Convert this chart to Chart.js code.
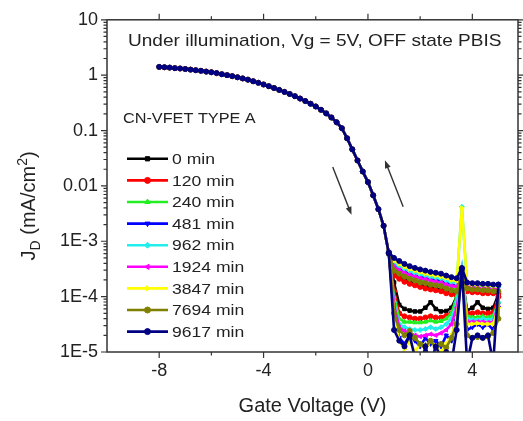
<!DOCTYPE html>
<html><head><meta charset="utf-8">
<script src="https://cdn.jsdelivr.net/npm/chart.js@4.4.1/dist/chart.umd.min.js"></script>
<style>html,body{margin:0;padding:0;background:#fff;}#wrap{width:523px;height:421px;}</style>
</head><body><div id="wrap"><canvas id="c" width="523" height="421"></canvas></div>
<script>
// ---------- data ----------
const seriesLabels = ['0 min','120 min','240 min','481 min','962 min','1924 min','3847 min','7694 min','9617 min'];
const seriesColors = ['#000000','#ff0000','#22ee22','#0000ff','#22eeee','#ff00ff','#ffff00','#808000','#000080'];
const seriesMarkers = ['rect','circle','triangle','triangle','rectRot','triangle','triangle','circle','circle'];
const seriesMarkerRot = [0,0,0,180,0,270,90,0,0];

const legendTitle = 'CN-VFET TYPE A';
const noteText = 'Under illumination, Vg = 5V, OFF state PBIS';
const xTitle = 'Gate Voltage (V)';

const xTickValues = [-8,-6,-4,-2,0,2,4];
const xTickLabels = ['-8','','-4','','0','','4'];
const yTickValues = [1e-5,1e-4,1e-3,0.01,0.1,1,10];
const yTickLabels = ['1E-5','1E-4','1E-3','0.01','0.1','1','10'];

// common ON-state part (all stress times overlap)
const onV = [-8.0,-7.8,-7.6,-7.4,-7.2,-7.0,-6.8,-6.6,-6.4,-6.2,-6.0,-5.8,-5.6,-5.4,-5.2,-5.0,-4.8,-4.6,-4.4,-4.2,-4.0,-3.8,-3.6,-3.4,-3.2,-3.0,-2.8,-2.6,-2.4,-2.2,-2.0,-1.8,-1.6,-1.4,-1.2,-1.0,-0.8,-0.6,-0.4,-0.2,0.0,0.2,0.4,0.6];
const onJ = [1.41,1.39,1.37,1.34,1.32,1.29,1.26,1.23,1.20,1.16,1.13,1.09,1.04,1.00,0.96,0.916,0.873,0.830,0.776,0.728,0.679,0.632,0.586,0.542,0.499,0.457,0.417,0.378,0.341,0.305,0.272,0.237,0.204,0.172,0.141,0.110,0.0724,0.0457,0.0288,0.0182,0.0117,0.00676,0.0038,0.0019];

// OFF-state region
const offV = [0.8,1.0,1.2,1.4,1.6,1.8,2.0,2.2,2.4,2.6,2.8,3.0,3.2,3.4,3.6,3.8,4.0,4.2,4.4,4.6,4.8,5.0];

// forward sweep (lower branch)
const fwd_0    = [6.0e-4,1.8e-4,7.1e-5,6.0e-5,5.6e-5,5.4e-5,5.4e-5,6.3e-5,7.9e-5,6.0e-5,5.4e-5,5.5e-5,6.3e-5,1.0e-4,2.5e-4,5.6e-5,6.3e-5,7.9e-5,6.3e-5,6.0e-5,6.3e-5,1.1e-4];
const fwd_120  = [6.0e-4,1.26e-4,5.0e-5,4.4e-5,4.2e-5,4.0e-5,4.0e-5,4.2e-5,4.4e-5,4.2e-5,4.2e-5,4.5e-5,5.0e-5,7.9e-5,2.5e-4,5.0e-5,5.0e-5,5.2e-5,5.0e-5,5.0e-5,5.2e-5,1.0e-4];
const fwd_240  = [6.0e-4,1.0e-4,4.0e-5,3.5e-5,3.5e-5,3.4e-5,3.4e-5,3.5e-5,3.7e-5,3.5e-5,3.6e-5,4.0e-5,5.0e-5,1.0e-4,2.8e-4,4.5e-5,4.2e-5,4.3e-5,4.4e-5,4.2e-5,4.5e-5,7.9e-5];
const fwd_481  = [6.0e-4,5.0e-5,1.8e-5,1.4e-5,2.0e-5,1.6e-5,1.26e-5,1.8e-5,1.4e-5,1.6e-5,1.26e-5,2.0e-5,1.6e-5,5.0e-5,2.8e-4,2.5e-5,2.8e-5,3.2e-5,2.8e-5,3.2e-5,2.5e-5,6.3e-5];
const fwd_962  = [6.0e-4,7.9e-5,3.2e-5,2.8e-5,2.6e-5,2.5e-5,2.5e-5,2.6e-5,2.8e-5,2.6e-5,2.8e-5,3.2e-5,4.0e-5,7.9e-5,3.2e-4,4.0e-5,3.8e-5,3.8e-5,4.0e-5,3.8e-5,4.0e-5,7.9e-5];
const fwd_1924 = [6.0e-4,7.1e-5,2.8e-5,2.4e-5,2.2e-5,2.0e-5,1.9e-5,2.0e-5,2.1e-5,2.0e-5,2.2e-5,2.5e-5,3.2e-5,6.3e-5,2.5e-4,3.5e-5,3.5e-5,3.5e-5,3.5e-5,3.4e-5,3.5e-5,7.1e-5];
const fwd_3847 = [6.0e-4,5.0e-5,1.6e-5,1.12e-5,1.6e-5,1.0e-5,1.4e-5,1.12e-5,1.6e-5,1.26e-5,1.0e-5,1.4e-5,2.0e-5,4.0e-5,3.2e-4,3.2e-5,3.2e-5,3.3e-5,3.2e-5,3.2e-5,3.2e-5,6.3e-5];
const fwd_7694 = [6.0e-4,5.0e-5,2.5e-5,2.0e-5,2.4e-5,1.8e-5,1.4e-5,1.26e-5,1.6e-5,1.2e-5,1.4e-5,1.2e-5,1.8e-5,3.2e-5,3.0e-4,2.0e-5,1.8e-5,1.86e-5,1.8e-5,1.9e-5,2.2e-5,4.0e-5];
const fwd_9617 = [6.0e-4,2.5e-5,1.6e-5,1.26e-5,2.0e-5,7.9e-6,5.0e-6,1.26e-5,6.3e-6,1.26e-5,7.9e-6,1.0e-5,6.3e-6,2.5e-5,3.2e-4,6.3e-6,1.8e-5,2.0e-5,1.8e-5,2.0e-5,6.3e-6,1.65e-4];

// reverse sweep (upper branch), listed at offV
const rev_0    = [6.3e-4,2.6e-4,2.3e-4,2.0e-4,1.85e-4,1.7e-4,1.6e-4,1.55e-4,1.45e-4,1.4e-4,1.35e-4,1.25e-4,1.15e-4,1.1e-4,2.4e-4,1.3e-4,1.25e-4,1.25e-4,1.2e-4,1.2e-4,1.2e-4,1.2e-4];
const rev_120  = [6.3e-4,2.4e-4,2.1e-4,1.85e-4,1.7e-4,1.6e-4,1.5e-4,1.4e-4,1.35e-4,1.3e-4,1.25e-4,1.15e-4,1.1e-4,1.05e-4,2.4e-4,1.25e-4,1.2e-4,1.2e-4,1.15e-4,1.15e-4,1.15e-4,1.15e-4];
const rev_240  = [6.3e-4,3.15e-4,2.75e-4,2.45e-4,2.25e-4,2.1e-4,1.95e-4,1.85e-4,1.75e-4,1.7e-4,1.65e-4,1.5e-4,1.4e-4,1.35e-4,2.5e-4,1.4e-4,1.4e-4,1.4e-4,1.35e-4,1.35e-4,1.3e-4,1.3e-4];
const rev_481  = [6.3e-4,3.8e-4,3.35e-4,2.95e-4,2.7e-4,2.5e-4,2.35e-4,2.25e-4,2.15e-4,2.05e-4,1.95e-4,1.8e-4,1.7e-4,1.65e-4,2.8e-4,1.55e-4,1.5e-4,1.5e-4,1.5e-4,1.5e-4,1.45e-4,1.45e-4];
const rev_962  = [6.3e-4,4.05e-4,3.55e-4,3.15e-4,2.9e-4,2.65e-4,2.5e-4,2.4e-4,2.25e-4,2.2e-4,2.1e-4,1.95e-4,1.8e-4,1.75e-4,4.2e-3,1.6e-4,1.6e-4,1.6e-4,1.55e-4,1.55e-4,1.5e-4,1.5e-4];
const rev_1924 = [6.3e-4,3.45e-4,3.0e-4,2.7e-4,2.45e-4,2.3e-4,2.15e-4,2.05e-4,1.95e-4,1.85e-4,1.8e-4,1.65e-4,1.55e-4,1.5e-4,2.6e-4,1.5e-4,1.45e-4,1.45e-4,1.4e-4,1.4e-4,1.35e-4,1.35e-4];
const rev_3847 = [6.3e-4,4.45e-4,3.9e-4,3.45e-4,3.15e-4,2.95e-4,2.75e-4,2.6e-4,2.5e-4,2.4e-4,2.3e-4,2.15e-4,2.0e-4,1.9e-4,4.0e-3,1.7e-4,1.65e-4,1.65e-4,1.6e-4,1.6e-4,1.55e-4,1.55e-4];
const rev_7694 = [6.3e-4,2.95e-4,2.6e-4,2.3e-4,2.1e-4,1.95e-4,1.8e-4,1.75e-4,1.65e-4,1.6e-4,1.55e-4,1.4e-4,1.3e-4,1.25e-4,2.6e-4,1.4e-4,1.35e-4,1.35e-4,1.3e-4,1.3e-4,1.25e-4,1.25e-4];
const rev_9617 = [6.3e-4,5.0e-4,4.4e-4,3.9e-4,3.55e-4,3.3e-4,3.1e-4,2.95e-4,2.8e-4,2.7e-4,2.6e-4,2.4e-4,2.25e-4,2.15e-4,3.3e-4,1.8e-4,1.75e-4,1.75e-4,1.7e-4,1.7e-4,1.65e-4,1.65e-4];

const fwdSets = [fwd_0,fwd_120,fwd_240,fwd_481,fwd_962,fwd_1924,fwd_3847,fwd_7694,fwd_9617];
const revSets = [rev_0,rev_120,rev_240,rev_481,rev_962,rev_1924,rev_3847,rev_7694,rev_9617];

// arrow annotations (in data coordinates): [x0, y0, x1, y1]
const arrowDown = [-1.35, 0.022, -0.63, 0.003];
const arrowUp   = [1.35, 0.0042, 0.65, 0.029];

// ---------- chart ----------
const FONT = "'Liberation Sans', Arial, Helvetica, sans-serif";
const TXT = '#222222';

function buildSeries(i){
  const pts = [];
  onV.forEach((v,k)=>pts.push({x:v, y:onJ[k]}));
  offV.forEach((v,k)=>pts.push({x:v, y:fwdSets[i][k]}));
  for (let k = offV.length-1; k >= 0; k--) pts.push({x:offV[k], y:revSets[i][k]});
  return pts;
}

function drawStretched(ctx, txt, x, y, size, sx, align){
  ctx.save();
  ctx.font = size + 'px ' + FONT;
  ctx.textBaseline = 'middle';
  ctx.textAlign = 'left';
  const w = ctx.measureText(txt).width * sx;
  let x0 = x;
  if (align === 'center') x0 = x - w/2;
  ctx.translate(x0, y);
  ctx.scale(sx, 1);
  ctx.fillText(txt, 0, 0);
  ctx.restore();
  return w;
}

const decor = {
  id: 'decor',
  afterDatasetsDraw(chart){
    const {ctx, chartArea:a, scales:{x, y}} = chart;
    ctx.save();
    ctx.strokeStyle = '#333';
    ctx.lineWidth = 1.5;
    ctx.strokeRect(a.left, a.top, a.right-a.left, a.bottom-a.top);
    ctx.lineWidth = 1.2;
    ctx.beginPath();
    xTickValues.forEach((v,i)=>{
      const px = x.getPixelForValue(v);
      const L = xTickLabels[i] ? 6 : 3.5;
      ctx.moveTo(px, a.bottom); ctx.lineTo(px, a.bottom + L);
      ctx.moveTo(px, a.top); ctx.lineTo(px, a.top - L);
    });
    yTickValues.forEach((d)=>{
      const py = y.getPixelForValue(d);
      ctx.moveTo(a.left, py); ctx.lineTo(a.left - 6, py);
      ctx.moveTo(a.right, py); ctx.lineTo(a.right + 6, py);
      if (d < 10) {
        for (let m = 2; m <= 9; m++) {
          const pm = y.getPixelForValue(d*m);
          ctx.moveTo(a.left, pm); ctx.lineTo(a.left - 3.5, pm);
          ctx.moveTo(a.right, pm); ctx.lineTo(a.right + 3.5, pm);
        }
      }
    });
    ctx.stroke();

    // arrows
    const drawArrow = (arr) => {
      const x0 = x.getPixelForValue(arr[0]), y0 = y.getPixelForValue(arr[1]);
      const x1 = x.getPixelForValue(arr[2]), y1 = y.getPixelForValue(arr[3]);
      const ang = Math.atan2(y1-y0, x1-x0);
      ctx.strokeStyle = '#333'; ctx.fillStyle = '#333'; ctx.lineWidth = 1.4;
      ctx.beginPath(); ctx.moveTo(x0,y0); ctx.lineTo(x1 - 4*Math.cos(ang), y1 - 4*Math.sin(ang)); ctx.stroke();
      ctx.beginPath();
      ctx.moveTo(x1, y1);
      ctx.lineTo(x1 - 8*Math.cos(ang) + 3*Math.sin(ang), y1 - 8*Math.sin(ang) - 3*Math.cos(ang));
      ctx.lineTo(x1 - 8*Math.cos(ang) - 3*Math.sin(ang), y1 - 8*Math.sin(ang) + 3*Math.cos(ang));
      ctx.closePath(); ctx.fill();
    };
    drawArrow(arrowDown);
    drawArrow(arrowUp);

    // note text
    ctx.fillStyle = TXT;
    drawStretched(ctx, noteText, a.left + 21, a.top + 22, 17, 1.12, 'left');

    // legend
    drawStretched(ctx, legendTitle, a.left + 16, a.top + 99, 14, 1.16, 'left');
    const lx0 = a.left + 20, lx1 = a.left + 61, rowY0 = a.top + 139, rowStep = 21.6;
    chart.data.datasets.forEach((ds, i) => {
      const ry = rowY0 + i*rowStep;
      ctx.strokeStyle = ds.borderColor; ctx.lineWidth = 2.6;
      ctx.beginPath(); ctx.moveTo(lx0, ry); ctx.lineTo(lx1, ry); ctx.stroke();
      ctx.fillStyle = ds.borderColor; ctx.strokeStyle = ds.borderColor; ctx.lineWidth = 1;
      if (Chart.helpers && Chart.helpers.drawPoint) {
        Chart.helpers.drawPoint(ctx, {pointStyle: ds.pointStyle, rotation: ds.pointRotation, radius: 3, borderWidth: 1}, (lx0+lx1)/2, ry);
      } else {
        ctx.beginPath(); ctx.arc((lx0+lx1)/2, ry, 3, 0, Math.PI*2); ctx.fill();
      }
      ctx.fillStyle = TXT;
      drawStretched(ctx, ds.label, lx1 + 4, ry + 1, 15, 1.17, 'left');
    });

    // y axis title with subscript / superscript
    ctx.save();
    ctx.translate(28, (a.top + a.bottom)/2 + 20);
    ctx.rotate(-Math.PI/2);
    ctx.fillStyle = TXT;
    ctx.textBaseline = 'alphabetic';
    ctx.textAlign = 'left';
    const parts = [['J',20,0],['D',14,5],[' (mA/cm',20,0],['2',14,-8],[')',20,0]];
    let tw = 0;
    parts.forEach(p => { ctx.font = p[1] + 'px ' + FONT; tw += ctx.measureText(p[0]).width; });
    let cx = -tw/2;
    parts.forEach(p => { ctx.font = p[1] + 'px ' + FONT; ctx.fillText(p[0], cx, 7 + p[2]); cx += ctx.measureText(p[0]).width; });
    ctx.restore();

    ctx.restore();
  }
};

const datasets = seriesLabels.map((lab, i) => ({
  label: lab,
  data: buildSeries(i),
  borderColor: seriesColors[i],
  backgroundColor: seriesColors[i],
  borderWidth: 2.6,
  pointRadius: 2.5,
  pointBorderWidth: 1,
  pointStyle: seriesMarkers[i],
  pointRotation: seriesMarkerRot[i],
  showLine: true,
  tension: 0,
  clip: 0,
  order: seriesLabels.length - 1 - i
}));

new Chart(document.getElementById('c'), {
  type: 'scatter',
  data: { datasets },
  options: {
    responsive: false,
    animation: false,
    devicePixelRatio: 1,
    events: [],
    layout: { padding: { left: 0, right: 5, top: 16, bottom: 0 } },
    plugins: { legend: { display: false }, tooltip: { enabled: false } },
    scales: {
      x: {
        type: 'linear', min: -10, max: 5.75,
        afterFit: s => { s.height = 69; },
        afterBuildTicks: s => { s.ticks = xTickValues.map(v => ({ value: v })); },
        grid: { display: false, drawTicks: false },
        border: { display: false },
        ticks: {
          autoSkip: false, maxRotation: 0, padding: 8, color: TXT,
          font: { family: FONT, size: 18 },
          callback: (v) => { const i = xTickValues.indexOf(v); return i >= 0 ? xTickLabels[i] : ''; }
        },
        title: { display: true, text: xTitle, color: TXT, font: { family: FONT, size: 20 }, padding: { top: 0, bottom: 3 } }
      },
      y: {
        type: 'logarithmic', min: 1e-5, max: 10,
        afterFit: s => { s.width = 107; },
        afterBuildTicks: s => { s.ticks = yTickValues.map(v => ({ value: v, major: true })); },
        grid: { display: false, drawTicks: false },
        border: { display: false },
        ticks: {
          autoSkip: false, padding: 9, color: TXT,
          font: { family: FONT, size: 18 },
          callback: (v) => { const i = yTickValues.findIndex(t => Math.abs(Math.log10(t) - Math.log10(v)) < 1e-6); return i >= 0 ? yTickLabels[i] : ''; }
        }
      }
    }
  },
  plugins: [decor]
});
</script>
</body></html>
